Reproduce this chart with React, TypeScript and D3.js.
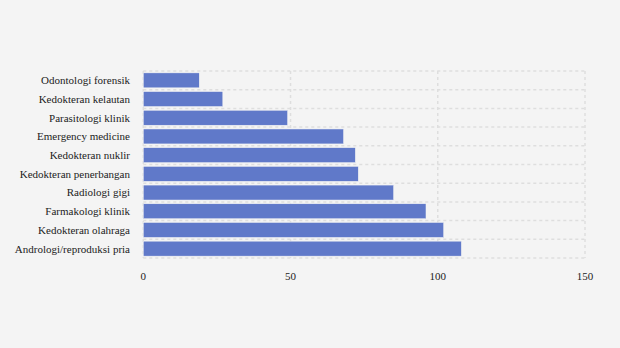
import React from "react";
import * as d3 from "d3";

const categories = [
  "Odontologi forensik",
  "Kedokteran kelautan",
  "Parasitologi klinik",
  "Emergency medicine",
  "Kedokteran nuklir",
  "Kedokteran penerbangan",
  "Radiologi gigi",
  "Farmakologi klinik",
  "Kedokteran olahraga",
  "Andrologi/reproduksi pria",
];
const values = [19, 27, 49, 68, 72, 73, 85, 96, 102, 108];
const xTicks = [0, 50, 100, 150];

export default function App() {
  const W = 620, H = 348;
  const left = 143.3, right = 585, top = 71, bottom = 258;
  const x = d3.scaleLinear().domain([0, 150]).range([left, right]);
  const y = d3.scaleBand<string>().domain(categories).range([top, bottom]).paddingInner(0.2).paddingOuter(0.1);
  const step = y.step();
  const font = "'Liberation Serif', 'DejaVu Serif', serif";
  return (
    <svg width={W} height={H} style={{ position: "absolute", left: 0, top: 0, background: "#f4f4f4" }}>
      <rect x={0} y={0} width={W} height={H} fill="#f4f4f4" />
      {d3.range(categories.length + 1).map((i) => (
        <line key={"h" + i} x1={left} x2={right} y1={top + i * step} y2={top + i * step}
          stroke="#dedede" strokeWidth={1.5} strokeDasharray="3,3" />
      ))}
      {xTicks.map((t) => (
        <line key={"v" + t} x1={x(t)} x2={x(t)} y1={top} y2={bottom}
          stroke="#dedede" strokeWidth={1.5} strokeDasharray="3,3" />
      ))}
      {categories.map((c, i) => (
        <rect key={c} x={x(0)} y={y(c)!} width={x(values[i]) - x(0)} height={y.bandwidth()}
          fill="#6079c9" stroke="#f4f4f4" strokeWidth={0.5} />
      ))}
      {categories.map((c) => (
        <text key={"l" + c} x={130} y={y(c)! + y.bandwidth() / 2} dy="0.35em" textAnchor="end"
          fontFamily={font} fontSize={11} fill="#222">{c}</text>
      ))}
      {xTicks.map((t) => (
        <text key={"t" + t} x={x(t)} y={276} dy="0.35em" textAnchor="middle"
          fontFamily={font} fontSize={11} fill="#222">{t}</text>
      ))}
    </svg>
  );
}
